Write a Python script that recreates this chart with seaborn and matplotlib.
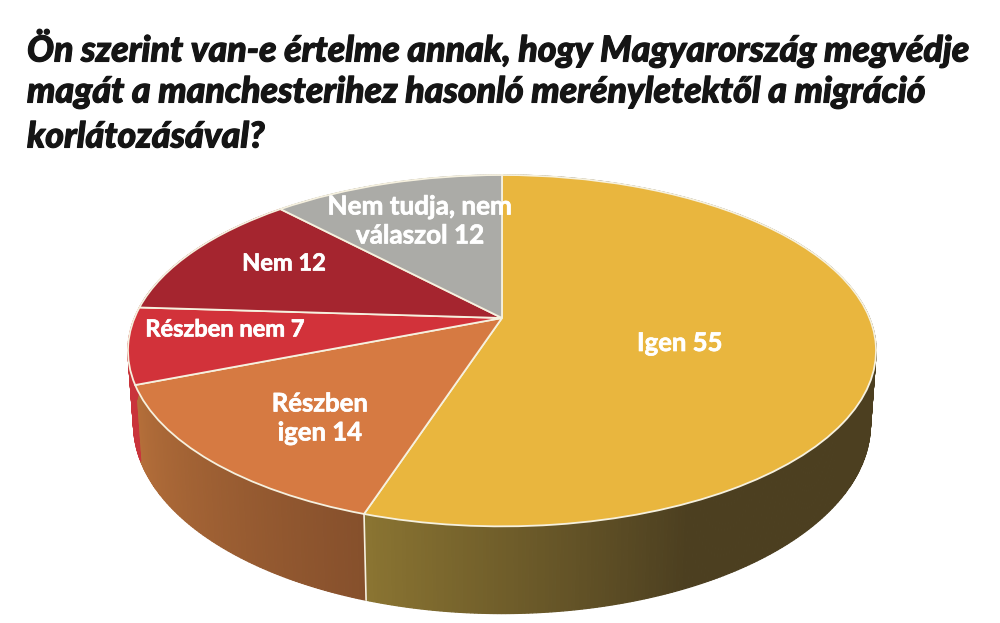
import numpy as np
import seaborn as sns
import matplotlib.pyplot as plt
import matplotlib.patheffects as pe
from matplotlib.colors import to_rgb
from matplotlib.transforms import Transform

categories = ['Igen', 'Részben igen', 'Részben nem', 'Nem', 'Nem tudja, nem válaszol']
values = [55, 14, 7, 12, 12]
title_lines = ['Ön szerint van-e értelme annak, hogy Magyarország megvédje',
               'magát a manchesterihez hasonló merényletektől a migráció',
               'korlátozásával?']
top_colors = ['#E9B63E', '#D67A42', '#D2323A', '#A5252F', '#ABABA7']
wall_colors = [('#4C3F20', '#8B7532'), ('#86502C', '#B56F3A'), ('#C9343B', '#C9343B'),
               ('#8A2028', '#8A2028'), ('#808080', '#808080')]
edge_color = '#F6F1DF'


class Tilt(Transform):
    # unit circle -> picture pixels, back of the pie is farther away
    input_dims = output_dims = 2

    def __init__(self, height=0.0, narrow=1.0):
        super().__init__()
        self.height = height
        self.narrow = narrow

    def transform_non_affine(self, xy):
        xy = np.asarray(xy, dtype=float)
        w = 1 + 0.186 * xy[:, 1]
        return np.column_stack([502 + 367.5 * self.narrow * xy[:, 0] / w,
                                318 - (169.6 * xy[:, 1] - self.height) / w])


sns.set_theme(style='white')
plt.rcParams['font.family'] = ['Lato', 'DejaVu Sans']

fig, ax = plt.subplots(figsize=(10, 6.23), dpi=100)
fig.subplots_adjust(0, 0, 1, 1)
wedges, _ = ax.pie(values, colors=top_colors, startangle=90, counterclock=False,
                   wedgeprops={'edgecolor': edge_color, 'linewidth': 1.3})
ax.set_aspect('auto')
ax.set_xlim(0, 1000)
ax.set_ylim(623, 0)
ax.axis('off')

# side wall, thin slices following the shares
front = Tilt()
lower = Tilt(height=71, narrow=0.985)
edges = np.cumsum([0] + values) / sum(values) * 360
for i in range(len(values)):
    a0, a1 = edges[i], edges[i + 1]
    steps = np.linspace(a0, a1, int(a1 - a0) * 2 + 2)
    c0, c1 = (np.array(to_rgb(c)) for c in wall_colors[i])
    for t0, t1 in zip(steps[:-1], steps[1:]):
        if i == 0:
            f = np.clip((t0 - 155) / (a1 - 155), 0, 1)
        else:
            f = (t0 - a0) / (a1 - a0)
        ring = np.radians([t0, t1])
        pts = np.column_stack([np.sin(ring), np.cos(ring)])
        quad = np.vstack([front.transform(pts), lower.transform(pts)[::-1]])
        shade = c0 + (c1 - c0) * f
        ax.fill(quad[:, 0], quad[:, 1], facecolor=shade, edgecolor=shade, lw=0.9, zorder=1)
    seam = np.radians(a1)
    p = np.array([[np.sin(seam), np.cos(seam)]])
    if 180 < a1 < 230:
        line = np.vstack([front.transform(p), lower.transform(p)])
        ax.plot(line[:, 0], line[:, 1], color=edge_color, lw=1.2, zorder=2)

for w in wedges:
    w.set_transform(front + ax.transData)
    w.set_zorder(3)

label_font = {'color': 'white', 'fontweight': 'bold', 'ha': 'center', 'va': 'center',
              'linespacing': 1.25, 'zorder': 4,
              'path_effects': [pe.withStroke(linewidth=0.5, foreground='white')]}
ax.text(680, 343, f'{categories[0]} {values[0]}', fontsize=18.5, **label_font)
ax.text(320, 418, f'Részben\nigen {values[1]}', fontsize=18.5, **label_font)
ax.text(225, 329, f'{categories[2]} {values[2]}', fontsize=17, **label_font)
ax.text(284, 263, f'{categories[3]} {values[3]}', fontsize=17, **label_font)
ax.text(420, 221, f'Nem tudja, nem\nválaszol {values[4]}', fontsize=18.8, **label_font)

for line, y in zip(title_lines, [48, 92, 137]):
    ax.text(27, y, line, color='#151515', fontsize=25.7, fontweight='black', fontstyle='italic',
            va='center', ha='left', path_effects=[pe.withStroke(linewidth=0.8, foreground='#151515')])

fig.savefig('out.png', dpi=100)
